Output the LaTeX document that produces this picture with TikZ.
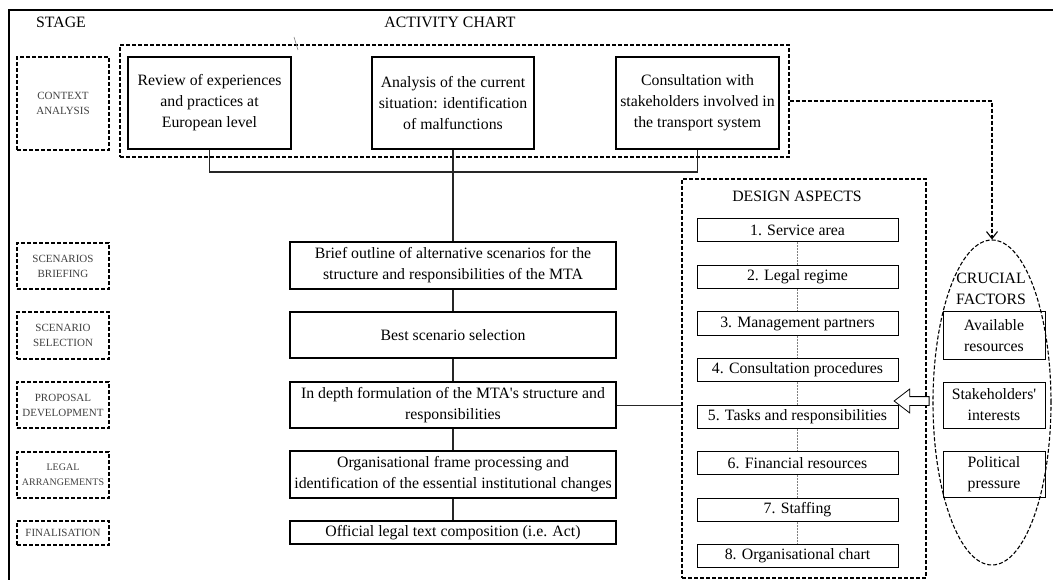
\documentclass[tikz,border=0pt]{standalone}
\usepackage{fontspec}
\setmainfont{Liberation Serif}
\usetikzlibrary{arrows.meta,shapes.geometric,shapes.arrows}

\begin{document}
\begin{tikzpicture}[x=1pt,y=-1pt]
            \tikzset{
                stagebox/.style={draw, dash pattern=on 4pt off 2pt, line width=1.3pt, minimum width=92pt,
                    inner sep=0pt, align=center, text=black!75, font=\fontsize{11}{15}\selectfont},
                actbox/.style={draw, line width=1.3pt, inner sep=0pt, align=center,
                    font=\fontsize{15.8}{21}\selectfont},
                groupbox/.style={draw, dash pattern=on 4pt off 2pt, line width=1.1pt, inner sep=0pt},
                aspectbox/.style={draw, line width=1pt, minimum width=201pt, minimum height=23pt,
                    inner sep=0pt, font=\fontsize{15.8}{21}\selectfont},
                factorbox/.style={draw, line width=1pt, minimum width=102pt, minimum height=46pt,
                    inner sep=0pt, align=center, font=\fontsize{15.8}{21}\selectfont},
                headtext/.style={inner sep=0pt, align=center, font=\fontsize{15.8}{21}\selectfont},
                mainlink/.style={line width=1.5pt, black!85},
                aspectlink/.style={gray, line width=0.6pt, dash pattern=on 2pt off 1pt},
                flowlink/.style={line width=1.1pt, dash pattern=on 4pt off 2pt}
            }

            \useasboundingbox (0,0) rectangle (1053,580);
            \draw[line width=1.3pt] (9,580) -- (9,10) -- (1053,10);

            % headers
            \node[headtext] (stage) at (61,22) {STAGE};
            \node[headtext] (activity) at (450,22) {ACTIVITY CHART};

            % stages
            \node[stagebox, minimum height=93pt] (scontext) at (63,103.5) {CONTEXT\\ANALYSIS};
            \node[stagebox, minimum height=46pt] (sbriefing) at (63,266) {SCENARIOS\\BRIEFING};
            \node[stagebox, minimum height=47pt] (sselection) at (63,335.5) {SCENARIO\\SELECTION};
            \node[stagebox, minimum height=46pt] (sproposal) at (63,405) {PROPOSAL\\DEVELOPMENT};
            \node[stagebox, minimum height=46pt, font=\fontsize{10}{15}\selectfont] (slegal) at (63,475)
                {LEGAL\\ARRANGEMENTS};
            \node[stagebox, minimum height=24pt] (sfinal) at (63,533) {FINALISATION};

            % context analysis
            \node[groupbox, minimum width=669pt, minimum height=112pt] (context) at (454.5,101) {};
            \draw[gray, line width=0.6pt] (294,37) -- (298,50);
            \node[actbox, minimum width=163pt, minimum height=92pt] (review) at (209.5,103)
                {Review of experiences\\and practices at\\European level};
            \node[actbox, minimum width=162pt, minimum height=92pt] (analysis) at (453,103)
                {Analysis of the current\\situation: identification\\of malfunctions};
            \node[actbox, minimum width=163pt, minimum height=92pt] (consult) at (697.5,103)
                {Consultation with\\stakeholders involved in\\the transport system};

            % activity column
            \node[actbox, minimum width=326pt, minimum height=47pt] (brief) at (453,265.5)
                {Brief outline of alternative scenarios for the\\structure and responsibilities of the MTA};
            \node[actbox, minimum width=326pt, minimum height=46pt] (best) at (453,335)
                {Best scenario selection};
            \node[actbox, minimum width=326pt, minimum height=46pt] (depth) at (453,405)
                {In depth formulation of the MTA\textquotesingle s structure and\\responsibilities};
            \node[actbox, minimum width=326pt, minimum height=47pt] (org) at (453,474.5)
                {Organisational frame processing and\\identification of the essential institutional changes};
            \node[actbox, minimum width=326pt, minimum height=23pt] (official) at (453,532.5)
                {Official legal text composition (i.e. Act)};

            \coordinate (join) at (453,172);
            \draw[mainlink] (review.south) |- (join) -| (consult.south);
            \draw[mainlink] (analysis.south) -- (brief.north);
            \draw[mainlink] (brief) -- (best);
            \draw[mainlink] (best) -- (depth);
            \draw[mainlink] (depth) -- (org);
            \draw[mainlink] (org) -- (official);

            % design aspects
            \node[groupbox, minimum width=244pt, minimum height=399pt] (design) at (804,378.5) {};
            \node[headtext] (designtitle) at (797,196) {DESIGN ASPECTS};
            \node[aspectbox] (a1) at (797.5,230.5) {1. Service area};
            \node[aspectbox] (a2) at (797.5,277) {2. Legal regime};
            \node[aspectbox] (a3) at (797.5,323.5) {3. Management partners};
            \node[aspectbox] (a4) at (797.5,370) {4. Consultation procedures};
            \node[aspectbox] (a5) at (797.5,416.5) {5. Tasks and responsibilities};
            \node[aspectbox] (a6) at (797.5,463) {6. Financial resources};
            \node[aspectbox] (a7) at (797.5,509.5) {7. Staffing};
            \node[aspectbox] (a8) at (797.5,556) {8. Organisational chart};
            \draw[aspectlink] (a1) -- (a2);
            \draw[aspectlink] (a2) -- (a3);
            \draw[aspectlink] (a3) -- (a4);
            \draw[aspectlink] (a4) -- (a5);
            \draw[aspectlink] (a5) -- (a6);
            \draw[aspectlink] (a6) -- (a7);
            \draw[aspectlink] (a7) -- (a8);

            \draw[line width=1pt, black!85] (depth.east) -- (depth.east -| design.west);

            % crucial factors
            \node[draw, ellipse, dash pattern=on 4pt off 2pt, line width=1.1pt, minimum width=118pt,
                minimum height=325pt, inner sep=0pt] (crucial) at (992,402.5) {};
            \node[headtext] (crucialtitle) at (991,288.5) {CRUCIAL\\FACTORS};
            \node[factorbox, minimum height=47pt] (avail) at (994,335.5) {Available\\resources};
            \node[factorbox] (stake) at (994,405) {Stakeholders\textquotesingle\\interests};
            \node[factorbox] (polit) at (994,474) {Political\\pressure};

            \node[draw, single arrow, shape border rotate=180, line width=0.8pt, fill=white,
                minimum height=35pt, minimum width=23pt, inner sep=4pt,
                single arrow head extend=7.5pt, single arrow tip angle=75] (push) at (914.5,401) {};

            \draw[flowlink, -{Straight Barb[length=7pt,width=11pt]}] (context.east) -| (crucial.north);
        \end{tikzpicture}
\end{document}
